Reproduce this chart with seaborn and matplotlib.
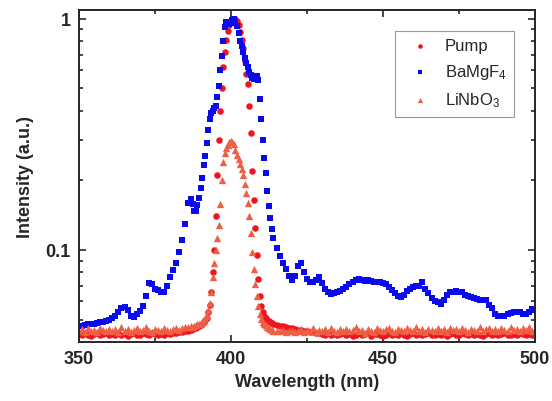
import numpy as np
import pandas as pd
import matplotlib
matplotlib.use("Agg")
import matplotlib.pyplot as plt
import seaborn as sns
from matplotlib.ticker import MultipleLocator, FixedLocator, NullFormatter

# sampling grid: 1 nm in the wings, 0.5 nm across the peak
wl_left = list(range(350, 388))
wl_peak = list(np.arange(387.5, 414.01, 0.5))
wl_right = list(range(415, 501))
wavelength = wl_left + wl_peak + wl_right

pump_left = [0.0432, 0.0428, 0.0435, 0.0430, 0.0426, 0.0433, 0.0438, 0.0429, 0.0431, 0.0436,
             0.0427, 0.0434, 0.0430, 0.0437, 0.0428, 0.0432, 0.0425, 0.0433, 0.0439, 0.0430,
             0.0428, 0.0435, 0.0431, 0.0427, 0.0436, 0.0432, 0.0429, 0.0434, 0.0430, 0.0437,
             0.0433, 0.0438, 0.0436, 0.0440, 0.0442, 0.0445, 0.0448, 0.0452]
pump_peak = [0.0455, 0.0458, 0.046, 0.0465, 0.047,
             0.0475, 0.048, 0.049, 0.050, 0.051, 0.054, 0.058, 0.066, 0.080, 0.10,
             0.14, 0.21, 0.30, 0.40, 0.50, 0.62, 0.72, 0.81, 0.89, 0.94,
             0.97, 0.99, 1.00, 1.00, 0.98, 0.94, 0.88, 0.81, 0.75, 0.66,
             0.58, 0.52, 0.42, 0.32, 0.22, 0.165, 0.125, 0.095, 0.075, 0.063,
             0.057, 0.054, 0.052, 0.051, 0.050, 0.0495, 0.049, 0.0485, 0.048]
pump_right = [0.0475, 0.047, 0.0468, 0.0465, 0.046, 0.0458, 0.0455, 0.0452, 0.045, 0.0448,
              0.0445, 0.0443, 0.0440, 0.0438, 0.0436, 0.0434,
              0.0430, 0.0435, 0.0428, 0.0433, 0.0427, 0.0431, 0.0436, 0.0429, 0.0433, 0.0426,
              0.0430, 0.0435, 0.0428, 0.0432, 0.0437, 0.0425, 0.0431, 0.0434, 0.0427, 0.0424,
              0.0430, 0.0436, 0.0429, 0.0433, 0.0428, 0.0435, 0.0430, 0.0426, 0.0432, 0.0437,
              0.0429, 0.0433, 0.0427, 0.0431, 0.0436, 0.0430, 0.0428, 0.0434, 0.0429, 0.0432,
              0.0426, 0.0433, 0.0437, 0.0430, 0.0428, 0.0435, 0.0431, 0.0427, 0.0433, 0.0429,
              0.0434, 0.0430, 0.0426, 0.0432, 0.0436, 0.0429, 0.0433, 0.0428, 0.0431, 0.0435,
              0.0430, 0.0427, 0.0433, 0.0429, 0.0436, 0.0431, 0.0428, 0.0434, 0.0430, 0.0432]

bamgf4_left = [0.047, 0.047, 0.0475, 0.048, 0.048, 0.0478, 0.0485, 0.049, 0.049, 0.0495,
               0.050, 0.051, 0.052, 0.054, 0.056, 0.0565, 0.055, 0.052, 0.0515, 0.053,
               0.0545, 0.057, 0.063, 0.072, 0.071, 0.068, 0.067, 0.066, 0.066, 0.070,
               0.076, 0.082, 0.088, 0.098, 0.110, 0.130, 0.160, 0.166]
bamgf4_peak = [0.158, 0.148, 0.147, 0.156, 0.168,
               0.185, 0.205, 0.232, 0.255, 0.29, 0.33, 0.37, 0.39, 0.40, 0.41,
               0.42, 0.46, 0.51, 0.60, 0.69, 0.80, 0.92, 0.97, 0.95, 0.95,
               0.96, 0.99, 1.00, 0.97, 0.93, 0.87, 0.80, 0.76, 0.72, 0.68,
               0.645, 0.62, 0.59, 0.57, 0.555, 0.55, 0.56, 0.565, 0.545, 0.45,
               0.37, 0.30, 0.25, 0.215, 0.18, 0.155, 0.137, 0.123, 0.113]
bamgf4_right = [0.102, 0.094, 0.088, 0.083, 0.077, 0.074, 0.077, 0.085, 0.088, 0.080,
                0.075, 0.0725, 0.073, 0.074, 0.076, 0.072, 0.068, 0.066, 0.0645, 0.065,
                0.066, 0.0667, 0.068, 0.069, 0.071, 0.0725, 0.074, 0.075, 0.074, 0.0735,
                0.074, 0.0737, 0.073, 0.0725, 0.0725, 0.072, 0.0714, 0.069, 0.067, 0.065,
                0.0635, 0.0624, 0.064, 0.0665, 0.068, 0.069, 0.0695, 0.070, 0.0725, 0.068,
                0.065, 0.062, 0.060, 0.0594, 0.0584, 0.061, 0.064, 0.0655, 0.066, 0.0667,
                0.066, 0.0655, 0.064, 0.063, 0.0625, 0.062, 0.0615, 0.061, 0.0607, 0.0605,
                0.058, 0.056, 0.053, 0.052, 0.0518, 0.052, 0.053, 0.0535, 0.0537, 0.0537,
                0.0537, 0.053, 0.053, 0.054, 0.0555, 0.055]

linbo3_left = [0.0448, 0.0455, 0.0442, 0.0460, 0.0446, 0.0452, 0.0440, 0.0458, 0.0449, 0.0444,
               0.0457, 0.0446, 0.0453, 0.0441, 0.0462, 0.0448, 0.0455, 0.0443, 0.0450, 0.0459,
               0.0445, 0.0452, 0.0463, 0.0447, 0.0441, 0.0456, 0.0449, 0.0444, 0.0458, 0.0451,
               0.0447, 0.0455, 0.0460, 0.0452, 0.0458, 0.0462, 0.0465, 0.0468]
linbo3_peak = [0.0465, 0.047, 0.0472, 0.0476, 0.048,
               0.0485, 0.049, 0.050, 0.051, 0.052, 0.055, 0.059, 0.066, 0.076, 0.088,
               0.100, 0.113, 0.128, 0.158, 0.200, 0.240, 0.262, 0.275, 0.285, 0.293,
               0.297, 0.293, 0.287, 0.272, 0.258, 0.248, 0.236, 0.224, 0.210, 0.192,
               0.176, 0.160, 0.140, 0.118, 0.098, 0.083, 0.071, 0.063, 0.057, 0.053,
               0.0505, 0.049, 0.048, 0.0472, 0.0465, 0.046, 0.0455, 0.0452, 0.0448]
linbo3_right = [0.0448, 0.0444, 0.0450, 0.0441, 0.0446, 0.0452, 0.0443, 0.0447, 0.0455, 0.0442,
                0.0449, 0.0445, 0.0458, 0.0440, 0.0451, 0.0446, 0.0454, 0.0443, 0.0460, 0.0447,
                0.0441, 0.0453, 0.0448, 0.0457, 0.0444, 0.0450, 0.0462, 0.0446, 0.0452, 0.0439,
                0.0455, 0.0448, 0.0443, 0.0459, 0.0450, 0.0445, 0.0453, 0.0461, 0.0447, 0.0442,
                0.0456, 0.0449, 0.0444, 0.0458, 0.0451, 0.0446, 0.0463, 0.0448, 0.0454, 0.0441,
                0.0457, 0.0450, 0.0445, 0.0460, 0.0447, 0.0453, 0.0442, 0.0458, 0.0449, 0.0455,
                0.0446, 0.0461, 0.0450, 0.0443, 0.0457, 0.0452, 0.0447, 0.0462, 0.0445, 0.0454,
                0.0459, 0.0448, 0.0453, 0.0444, 0.0460, 0.0451, 0.0446, 0.0463, 0.0449, 0.0456,
                0.0447, 0.0458, 0.0452, 0.0464, 0.0448, 0.0457]

df = pd.DataFrame({
    "wavelength": wavelength,
    "pump": pump_left + pump_peak + pump_right,
    "bamgf4": bamgf4_left + bamgf4_peak + bamgf4_right,
    "linbo3": linbo3_left + linbo3_peak + linbo3_right,
})

sns.set_style("ticks")
plt.rcParams["font.family"] = ["Liberation Sans", "DejaVu Sans"]
plt.rcParams["mathtext.fontset"] = "custom"
plt.rcParams["mathtext.rm"] = "Liberation Sans"
plt.rcParams["mathtext.it"] = "Liberation Sans:italic"
plt.rcParams["mathtext.bf"] = "Liberation Sans:bold"

fig = plt.figure(figsize=(5.52, 4.02), dpi=100)
ax = fig.add_axes([0.143, 0.147, 0.826, 0.826])

sns.scatterplot(data=df, x="wavelength", y="pump", ax=ax, marker="o", s=22,
                color="#F0141E", linewidth=0, label="Pump")
sns.scatterplot(data=df, x="wavelength", y="bamgf4", ax=ax, marker="s", s=20,
                color="#0A0AF0", linewidth=0, label="BaMgF$_4$")
sns.scatterplot(data=df, x="wavelength", y="linbo3", ax=ax, marker="^", s=28,
                color="#EE5F45", linewidth=0, label="LiNbO$_3$")

ax.set_yscale("log")
ax.set_xlim(350, 500)
ax.set_ylim(0.04, 1.094)

ax.xaxis.set_major_locator(MultipleLocator(50))
ax.xaxis.set_minor_locator(MultipleLocator(25))
ax.yaxis.set_major_locator(FixedLocator([0.1, 1]))
ax.yaxis.set_minor_locator(FixedLocator([0.04, 0.05, 0.06, 0.07, 0.08, 0.09,
                                         0.2, 0.3, 0.4, 0.5, 0.6, 0.7, 0.8, 0.9]))
ax.set_yticklabels(["0.1", "1"])
ax.yaxis.set_minor_formatter(NullFormatter())

ax.tick_params(which="both", direction="in", top=True, right=True, width=1.2)
ax.tick_params(which="major", length=5, labelsize=13, pad=6)
ax.tick_params(which="minor", length=3)
for lbl in ax.get_xticklabels() + ax.get_yticklabels():
    lbl.set_fontweight("bold")
for sp in ax.spines.values():
    sp.set_linewidth(1.4)

ax.set_xlabel("Wavelength (nm)", fontsize=13, fontweight="bold", labelpad=4)
ax.set_ylabel("Intensity (a.u.)", fontsize=13, fontweight="bold", labelpad=8)

leg = ax.legend(loc="upper right", bbox_to_anchor=(0.954, 0.937), fontsize=12,
                frameon=True, fancybox=False, edgecolor="#808080", borderaxespad=0,
                handletextpad=0.5, labelspacing=0.55, borderpad=0.45, markerscale=0.7)
leg.get_frame().set_linewidth(0.8)

fig.savefig("out.png", dpi=100)
